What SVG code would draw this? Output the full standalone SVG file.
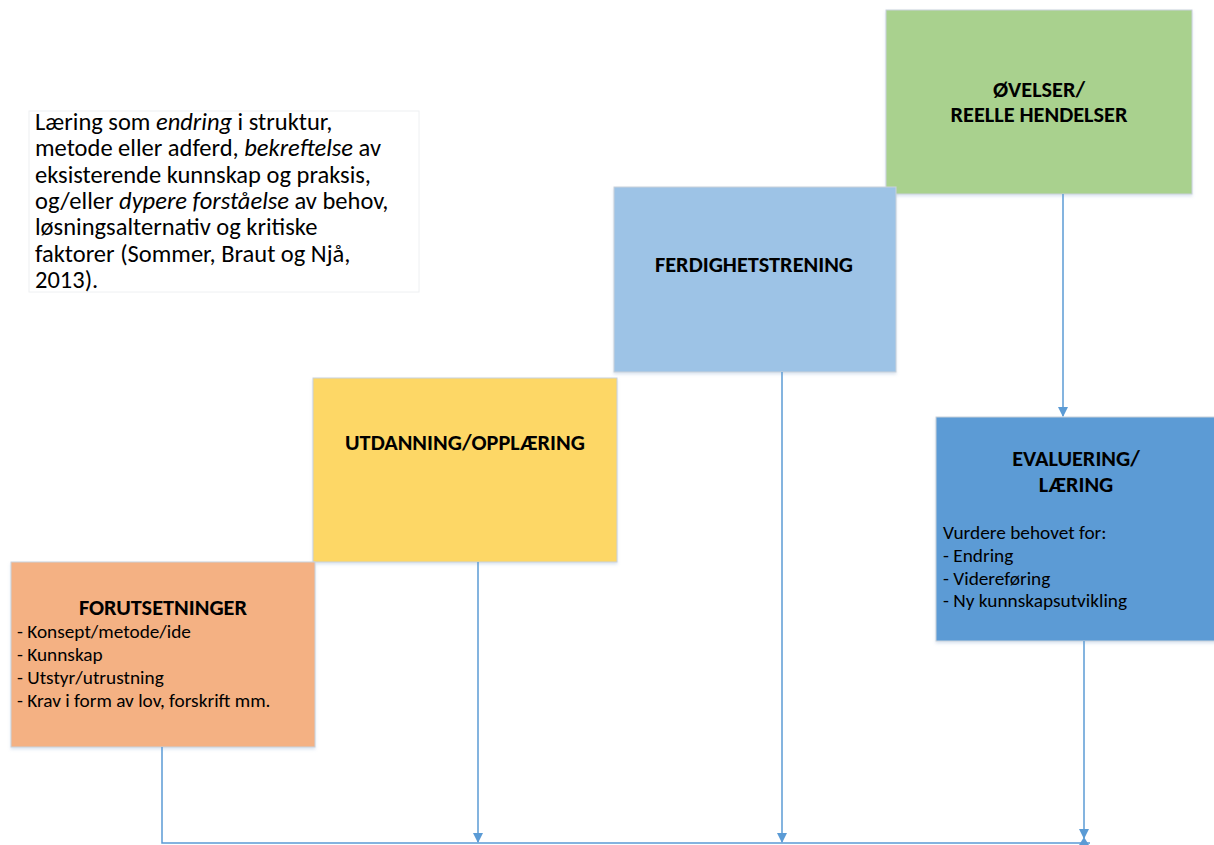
<svg xmlns="http://www.w3.org/2000/svg" width="1214" height="845" viewBox="0 0 1214 845">
  <defs>
    <filter id="shadow" x="-5%" y="-5%" width="110%" height="115%">
      <feDropShadow dx="0" dy="2" stdDeviation="1.5" flood-color="#9db6d6" flood-opacity="0.35"/>
    </filter>
    <marker id="arrow" viewBox="0 0 10 10" refX="9" refY="5" markerWidth="10" markerHeight="10" markerUnits="userSpaceOnUse" orient="auto">
      <path d="M0,0 L10,5 L0,10 Z" fill="#5B9BD5"/>
    </marker>
    <style>
      text { font-family: Carlito, "Open Sans", sans-serif; fill: #000; }
      .box { stroke: #c9d1da; stroke-width: 1; filter: url(#shadow); }
      .title { font-size: 22.3px; font-weight: bold; text-anchor: middle; }
      .body { font-size: 19.3px; }
      .note { font-size: 24.5px; }
      .conn { fill: none; stroke: #5B9BD5; stroke-width: 1.5; }
    </style>
  </defs>

  <rect width="1214" height="845" fill="#fff"/>

  <!-- definition text -->
  <g id="definition">
    <rect x="29" y="111" width="390" height="181" fill="#fff" stroke="#eef0f2" stroke-width="1"/>
    <text class="note" x="35" y="130">Læring som <tspan font-style="italic">endring</tspan> i struktur,</text>
    <text class="note" x="35" y="156">metode eller adferd, <tspan font-style="italic">bekreftelse</tspan> av</text>
    <text class="note" x="35" y="183">eksisterende kunnskap og praksis,</text>
    <text class="note" x="35" y="209">og/eller <tspan font-style="italic">dypere forståelse</tspan> av behov,</text>
    <text class="note" x="35" y="235">løsningsalternativ og kritiske</text>
    <text class="note" x="35" y="262">faktorer (Sommer, Braut og Njå,</text>
    <text class="note" x="35" y="288">2013).</text>
  </g>

  <!-- exercises / real events -->
  <g id="ovelser">
    <rect class="box" x="886" y="10" width="306" height="184" fill="#A9D18E"/>
    <text class="title" x="1039" y="97">ØVELSER/</text>
    <text class="title" x="1039" y="122">REELLE HENDELSER</text>
  </g>

  <!-- skills training -->
  <g id="ferdighetstrening">
    <rect class="box" x="614" y="187" width="282" height="185" fill="#9DC3E6"/>
    <text class="title" x="754" y="272">FERDIGHETSTRENING</text>
  </g>

  <!-- education / training -->
  <g id="utdanning">
    <rect class="box" x="313" y="378" width="304" height="184" fill="#FDD766"/>
    <text class="title" x="465" y="450">UTDANNING/OPPLÆRING</text>
  </g>

  <!-- prerequisites -->
  <g id="forutsetninger">
    <rect class="box" x="11" y="562" width="304" height="185" fill="#F4B183"/>
    <text class="title" x="163" y="615">FORUTSETNINGER</text>
    <text class="body" x="17" y="638">- Konsept/metode/ide</text>
    <text class="body" x="17" y="661">- Kunnskap</text>
    <text class="body" x="17" y="684">- Utstyr/utrustning</text>
    <text class="body" x="17" y="707">- Krav i form av lov, forskrift mm.</text>
  </g>

  <!-- evaluation / learning -->
  <g id="evaluering">
    <rect class="box" x="936" y="417" width="290" height="224" fill="#5B9BD5"/>
    <text class="title" x="1076" y="466">EVALUERING/</text>
    <text class="title" x="1076" y="492">LÆRING</text>
    <text class="body" x="943" y="539">Vurdere behovet for:</text>
    <text class="body" x="943" y="562">- Endring</text>
    <text class="body" x="943" y="585">- Videreføring</text>
    <text class="body" x="943" y="607">- Ny kunnskapsutvikling</text>
  </g>

  <!-- connectors -->
  <g id="connectors">
    <path class="conn" d="M162,747 V843 H1090"/>
    <path class="conn" d="M478,562 V842" marker-end="url(#arrow)"/>
    <path class="conn" d="M782,372 V842" marker-end="url(#arrow)"/>
    <path class="conn" d="M1063,194 V416" marker-end="url(#arrow)"/>
    <path class="conn" d="M1084,641 V838" marker-end="url(#arrow)"/>
    <path d="M1079,845 L1084,837 L1089,845 Z" fill="#5B9BD5"/>
  </g>
</svg>
